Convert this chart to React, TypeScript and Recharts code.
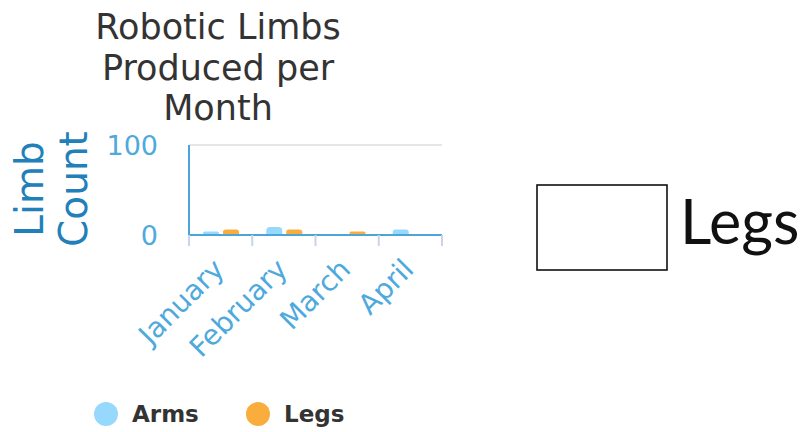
import React from 'react';
import { BarChart, Bar, XAxis, YAxis, CartesianGrid, Legend, Customized } from 'recharts';

const months = ['January', 'February', 'March', 'April'];
const armsValues = [4, 9, 1, 6];
const legsValues = [6, 6, 4, 0];
const yTicks = [0, 100];
const titleLines = ['Robotic Limbs', 'Produced per', 'Month'];
const yLabelLines = ['Limb', 'Count'];
const seriesNames = ['Arms', 'Legs'];
const seriesColors = ['#96d9fc', '#f9ad3c'];
const sideLegendLabel = 'Legs';

const data = months.map((m, i) => ({ month: m, Arms: armsValues[i], Legs: legsValues[i] }));

const FONT = '"DejaVu Sans", sans-serif';
const TICK_BLUE = '#4ea9dd';
const AXIS_BLUE = '#4aa6da';
const LABEL_BLUE = '#2180b9';

function XTick(props: any) {
  const { x, y, payload, index, visibleTicksCount } = props;
  const half = payload && payload.offset ? payload.offset : 0;
  const tx = x + 5;
  const ty = y + 36;
  return (
    <g>
      <line x1={x - half} x2={x - half} y1={y} y2={y + 11} stroke="#c9d4ea" strokeWidth={2} />
      {index === visibleTicksCount - 1 ? (
        <line x1={x + half} x2={x + half} y1={y} y2={y + 11} stroke="#c9d4ea" strokeWidth={2} />
      ) : null}
      <text
        x={tx}
        y={ty}
        transform={`rotate(-45, ${tx}, ${ty})`}
        textAnchor="end"
        fill={TICK_BLUE}
        fontFamily={FONT}
        fontSize={28}
      >
        {payload.value}
      </text>
    </g>
  );
}

function YTick(props: any) {
  const { x, y, payload } = props;
  return (
    <text x={x} y={y} dy={10} textAnchor="end" fill={TICK_BLUE} fontFamily={FONT} fontSize={27}>
      {payload.value}
    </text>
  );
}

function Decorations() {
  return (
    <g>
      <text textAnchor="middle" fill="#333333" fontFamily={FONT} fontSize={35}>
        {titleLines.map((t, i) => (
          <tspan key={t} x={218} y={39 + i * 40.5}>
            {t}
          </tspan>
        ))}
      </text>
      <text
        transform="rotate(-90)"
        textAnchor="middle"
        fill={LABEL_BLUE}
        fontFamily={FONT}
        fontSize={39}
      >
        {yLabelLines.map((t, i) => (
          <tspan key={t} x={-189} y={43 + i * 44}>
            {t}
          </tspan>
        ))}
      </text>
      <rect x={537} y={185} width={130} height={85} fill="#ffffff" stroke="#111111" strokeWidth={1.6} />
      <text x={680} y={244} fill="#111111" fontFamily="Lato, sans-serif" fontSize={61}>
        {sideLegendLabel}
      </text>
    </g>
  );
}

function BottomLegend() {
  const xs = [106, 258];
  return (
    <svg width={400} height={42} style={{ display: 'block' }}>
      {seriesNames.map((n, i) => (
        <g key={n}>
          <circle cx={xs[i]} cy={24} r={12} fill={seriesColors[i]} />
          <text x={xs[i] + 26} y={32} fill="#333333" fontFamily={FONT} fontWeight="bold" fontSize={23}>
            {n}
          </text>
        </g>
      ))}
    </svg>
  );
}

export default function App() {
  return (
    <div style={{ position: 'absolute', left: 0, top: 0, width: 800, height: 432, background: '#fff' }}>
      <BarChart
        width={800}
        height={432}
        data={data}
        margin={{ top: 145, right: 358, bottom: 137, left: 0 }}
        barGap={4}
        barSize={16}
      >
        <CartesianGrid horizontal vertical={false} stroke="#e6e6e6" strokeWidth={2} />
        <XAxis
          dataKey="month"
          height={60}
          tickLine={false}
          tickSize={0}
          tickMargin={0}
          interval={0}
          stroke={AXIS_BLUE}
          strokeWidth={2}
          tick={<XTick />}
        />
        <YAxis
          width={189}
          domain={[0, 100]}
          ticks={yTicks}
          tickLine={false}
          tickSize={0}
          tickMargin={31}
          stroke={AXIS_BLUE}
          strokeWidth={2}
          tick={<YTick />}
        />
        <Legend
          layout="vertical"
          align="center"
          verticalAlign="middle"
          wrapperStyle={{ position: 'absolute', left: 0, top: 390, width: 400, height: 42 }}
          content={() => <BottomLegend />}
        />
        {seriesNames.map((n, i) => (
          <Bar key={n} dataKey={n} fill={seriesColors[i]} radius={[4, 4, 0, 0]} isAnimationActive={false} />
        ))}
        <Customized component={Decorations} />
      </BarChart>
    </div>
  );
}
